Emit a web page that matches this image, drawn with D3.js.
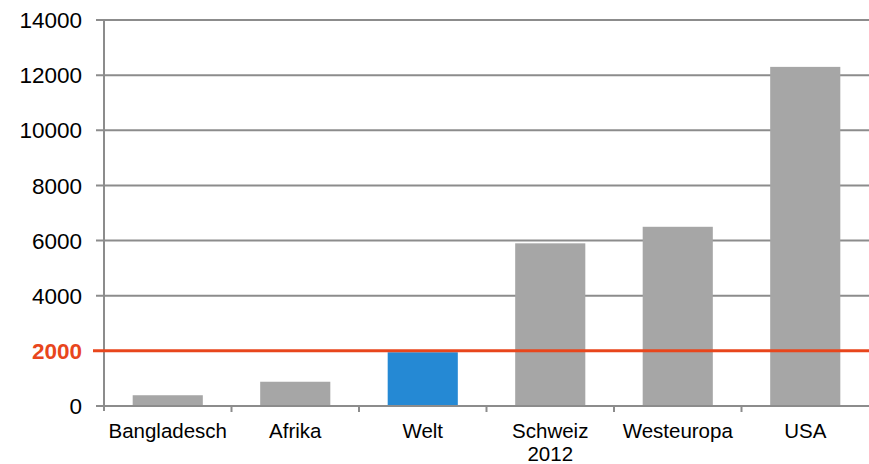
<!DOCTYPE html>
<html><head><meta charset="utf-8">
<script src="https://cdn.jsdelivr.net/npm/d3@7"></script>
<style>body{margin:0;background:#fff}svg{display:block}text{font-family:"Liberation Sans",Arial,sans-serif}</style>
</head><body>
<svg id="c" width="869" height="464"></svg>
<script>
const categories = ["Bangladesch", "Afrika", "Welt", "Schweiz\n2012", "Westeuropa", "USA"];
const values = [390, 880, 1950, 5900, 6500, 12300];
const highlight = [false, false, true, false, false, false];
const yTicks = [0, 2000, 4000, 6000, 8000, 10000, 12000, 14000];
const threshold = 2000;

(function() {
const svg = d3.select("#c");
const mLeft = 104, mRight = 869, mTop = 20, mBottom = 406;
const x = d3.scaleBand().domain(categories).range([mLeft, mRight]).paddingInner(0.45).paddingOuter(0.225);
const y = d3.scaleLinear().domain([0, 14000]).range([mBottom, mTop]);
const grid = "#8c8c8c";

svg.append("g").selectAll("line").data(yTicks.filter(d => d !== 0 && d !== threshold)).join("line")
  .attr("x1", mLeft - 8).attr("x2", mRight).attr("y1", d => y(d)).attr("y2", d => y(d))
  .attr("stroke", grid).attr("stroke-width", 2);

svg.append("g").selectAll("rect").data(values).join("rect")
  .attr("x", (d, i) => x(categories[i])).attr("width", x.bandwidth())
  .attr("y", d => y(d)).attr("height", d => y(0) - y(d))
  .attr("fill", (d, i) => highlight[i] ? "#2589d4" : "#a6a6a6");

svg.append("line").attr("x1", mLeft - 8).attr("x2", mRight).attr("y1", y(0)).attr("y2", y(0))
  .attr("stroke", grid).attr("stroke-width", 2);
svg.append("line").attr("x1", mLeft).attr("x2", mLeft).attr("y1", mTop).attr("y2", mBottom + 5)
  .attr("stroke", grid).attr("stroke-width", 2);
const bounds = categories.map(c => x(c) - x.step() * x.paddingInner() / 2).concat([mRight]);
svg.append("g").selectAll("line").data(bounds.slice(1, -1)).join("line")
  .attr("x1", d => d).attr("x2", d => d).attr("y1", mBottom).attr("y2", mBottom + 6)
  .attr("stroke", grid).attr("stroke-width", 2);

svg.append("line").attr("x1", mLeft - 11).attr("x2", mRight).attr("y1", y(threshold)).attr("y2", y(threshold))
  .attr("stroke", "#e8461c").attr("stroke-width", 3);

svg.append("g").selectAll("text").data(yTicks).join("text")
  .attr("x", 82).attr("y", d => y(d)).attr("dy", "0.36em").attr("text-anchor", "end")
  .attr("font-size", 22.5)
  .attr("fill", d => d === threshold ? "#e8461c" : "#000")
  .attr("font-weight", d => d === threshold ? "bold" : "normal")
  .text(d => d);

const xl = svg.append("g").selectAll("text").data(categories).join("text")
  .attr("x", d => x(d) + x.bandwidth() / 2).attr("y", 438).attr("text-anchor", "middle")
  .attr("font-size", 20.5);
xl.each(function(d) {
  const t = d3.select(this);
  d.split("\n").forEach((s, i) => {
    t.append("tspan").attr("x", x(d) + x.bandwidth() / 2).attr("dy", i === 0 ? 0 : 23).text(s);
  });
});
})();
</script>
</body></html>
